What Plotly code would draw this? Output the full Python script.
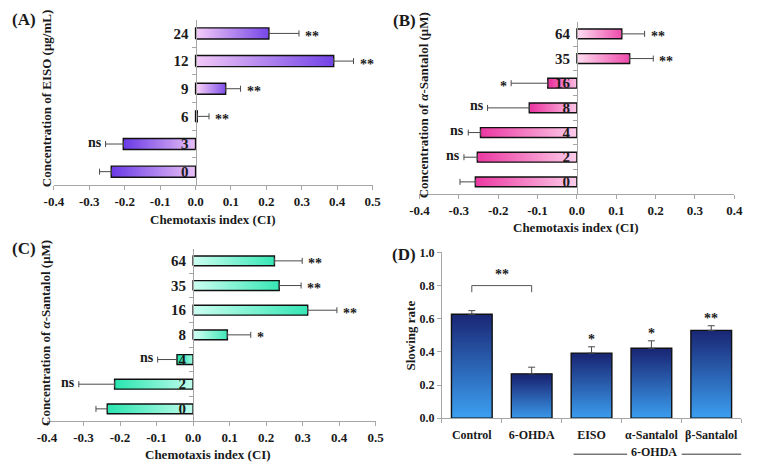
import plotly.graph_objects as go

W, H = 757, 467
FONT = "Liberation Serif"

# ---------------- data ----------------
a_labels = ["0", "3", "6", "9", "12", "24"]
a_vals = [-0.238, -0.204, 0.005, 0.085, 0.390, 0.207]
a_err = [0.033, 0.050, 0.033, 0.042, 0.056, 0.085]
a_sig = ["", "ns", "**", "**", "**", "**"]

b_labels = ["0", "2", "4", "8", "16", "35", "64"]
b_vals = [-0.258, -0.253, -0.245, -0.121, -0.074, 0.134, 0.114]
b_err = [0.039, 0.034, 0.031, 0.106, 0.093, 0.060, 0.058]
b_sig = ["", "ns", "ns", "ns", "*", "**", "**"]

c_labels = ["0", "2", "4", "8", "16", "35", "64"]
c_vals = [-0.235, -0.215, -0.044, 0.094, 0.314, 0.236, 0.223]
c_err = [0.031, 0.098, 0.053, 0.064, 0.080, 0.060, 0.076]
c_sig = ["", "ns", "ns", "*", "**", "**", "**"]

d_labels = ["Control", "6-OHDA", "EISO", "α-Santalol", "β-Santalol"]
d_vals = [0.627, 0.268, 0.393, 0.422, 0.530]
d_err = [0.022, 0.040, 0.038, 0.045, 0.028]
d_sig = ["", "", "*", "*", "**"]

x_ticks_ab = [-0.4, -0.3, -0.2, -0.1, 0.0, 0.1, 0.2, 0.3, 0.4, 0.5]
x_ticks_b = [-0.4, -0.3, -0.2, -0.1, 0.0, 0.1, 0.2, 0.3, 0.4]
d_yticks = [0.0, 0.2, 0.4, 0.6, 0.8, 1.0]


def pxx(x):
    return x / W


def pyy(y):
    return 1 - y / H


AXC = "#a6a6a6"
ERRC = "#4a4a4a"
TXT = "#1a1a1a"

fig = go.Figure()
annotations = []
shapes = []


def ptext(x, y, text, size, angle=0):
    annotations.append(dict(
        x=pxx(x), y=pyy(y), xref="paper", yref="paper", text=text,
        textangle=angle, showarrow=False, xanchor="center", yanchor="middle",
        font=dict(family=FONT, size=size, color=TXT, weight="bold")))


panels = [
    dict(key="", labels=a_labels, vals=a_vals, err=a_err, sig=a_sig,
         xr=[-0.4, 0.5], ticks=x_ticks_ab, dom_x=(45, 372), dom_y=(13, 184),
         light="#efc6f7", dark="#6c3ce6",
         ytitle="Concentration of EISO (μg/mL)", ytx=37, yty=95,
         xtx=208, xty=219, tag="(A)", tagx=14, tagy=13),
    dict(key="2", labels=b_labels, vals=b_vals, err=b_err, sig=b_sig,
         xr=[-0.4, 0.4], ticks=x_ticks_b, dom_x=(420, 743), dom_y=(15, 193),
         light="#fdd3ec", dark="#ec3aa3",
         ytitle="Concentration of <i>α</i>-Santalol (μM)", ytx=425, yty=101,
         xtx=581, xty=227, tag="(B)", tagx=405, tagy=14),
    dict(key="3", labels=c_labels, vals=c_vals, err=c_err, sig=c_sig,
         xr=[-0.4, 0.5], ticks=x_ticks_ab, dom_x=(38, 375), dom_y=(249, 427),
         light="#c6fdee", dark="#2ce5b1",
         ytitle="Concentration of <i>α</i>-Santalol (μM)", ytx=37, yty=336,
         xtx=203, xty=461, tag="(C)", tagx=14, tagy=249),
]

for p in panels:
    k = p["key"]
    xid, yid = "x" + k, "y" + k
    n = len(p["labels"])
    hh = 0.2
    for i, (v, e, s) in enumerate(zip(p["vals"], p["err"], p["sig"])):
        lo, hi = min(0, v), max(0, v)
        cs = [[0, p["light"]], [1, p["dark"]]] if v >= 0 else [[0, p["dark"]], [1, p["light"]]]
        fig.add_trace(go.Scatter(
            x=[0, v, v, 0, 0], y=[i - hh, i - hh, i + hh, i + hh, i - hh],
            mode="lines", fill="toself",
            fillgradient=dict(type="horizontal", colorscale=cs, start=lo, stop=hi),
            line=dict(color="#111111", width=1.4),
            xaxis=xid, yaxis=yid, showlegend=False, hoverinfo="skip"))
        fig.add_trace(go.Scatter(
            x=[v], y=[i], mode="markers", marker=dict(size=0.1, color="rgba(0,0,0,0)"),
            error_x=dict(type="data", symmetric=False,
                         array=[e if v >= 0 else 0], arrayminus=[0 if v >= 0 else e],
                         color=ERRC, thickness=1, width=3),
            xaxis=xid, yaxis=yid, showlegend=False, hoverinfo="skip"))
        if s:
            end = v + e if v >= 0 else v - e
            annotations.append(dict(
                x=end, y=i, xref=xid, yref=yid, text=s, showarrow=False,
                xanchor="left" if v >= 0 else "right", yanchor="middle",
                xshift=4 if v >= 0 else -2, yshift=-3 if "*" in s else 2,
                font=dict(family=FONT, size=14, color=TXT, weight="bold")))
    x0, x1 = pxx(p["dom_x"][0]), pxx(p["dom_x"][1])
    y0, y1 = pyy(p["dom_y"][1]), pyy(p["dom_y"][0])
    frac = (0 - p["xr"][0]) / (p["xr"][1] - p["xr"][0])
    fig.layout["xaxis" + k] = dict(
        domain=[x0, x1], range=p["xr"], anchor=yid, tickvals=p["ticks"],
        ticktext=["%.1f" % t for t in p["ticks"]],
        ticks="outside", ticklen=4, tickcolor=AXC, showline=True, linecolor=AXC,
        linewidth=1, showgrid=False, zeroline=False,
        tickfont=dict(family=FONT, size=13, color=TXT, weight="bold"))
    fig.layout["yaxis" + k] = dict(
        domain=[y0, y1], range=[-0.5, n - 0.5], anchor="free",
        position=x0 + frac * (x1 - x0), tickvals=list(range(n)), ticktext=p["labels"],
        ticks="", ticklabelstandoff=4, showline=True, linecolor=AXC, linewidth=1,
        showgrid=False, zeroline=False,
        minor=dict(tickvals=[j + 0.5 for j in range(n - 1)], ticks="outside",
                   ticklen=4, tickcolor=AXC),
        tickfont=dict(family=FONT, size=15, color=TXT, weight="bold"))
    ptext(p["ytx"], p["yty"], p["ytitle"], 13, angle=-90)
    ptext(p["xtx"], p["xty"], "Chemotaxis index (CI)", 13)
    ptext(p["tagx"], p["tagy"], p["tag"], 17)

# ---------------- panel D ----------------
hw = 0.34
for i, (v, e, s) in enumerate(zip(d_vals, d_err, d_sig)):
    fig.add_trace(go.Scatter(
        x=[i - hw, i + hw, i + hw, i - hw, i - hw], y=[0, 0, v, v, 0],
        mode="lines", fill="toself",
        fillgradient=dict(type="vertical", colorscale=[[0, "#3ea6f8"], [1, "#1a2977"]],
                          start=0, stop=v),
        line=dict(color="#111111", width=1.4),
        xaxis="x4", yaxis="y4", showlegend=False, hoverinfo="skip"))
    fig.add_trace(go.Scatter(
        x=[i], y=[v], mode="markers", marker=dict(size=0.1, color="rgba(0,0,0,0)"),
        error_y=dict(type="data", symmetric=False, array=[e], arrayminus=[0],
                     color=ERRC, thickness=1, width=3.5),
        xaxis="x4", yaxis="y4", showlegend=False, hoverinfo="skip"))
    if s:
        annotations.append(dict(
            x=i, y=v + e, xref="x4", yref="y4", text=s, showarrow=False,
            xanchor="center", yanchor="bottom", yshift=-2,
            font=dict(family=FONT, size=14, color=TXT, weight="bold")))

dx0, dx1 = pxx(443), pxx(750)
dy0, dy1 = pyy(424), pyy(253)
fig.layout["xaxis4"] = dict(
    domain=[dx0, dx1], range=[-0.5, len(d_labels) - 0.5], anchor="y4",
    tickvals=list(range(len(d_labels))), ticktext=d_labels, ticks="",
    ticklabelstandoff=5, showline=True, linecolor=AXC, linewidth=1,
    showgrid=False, zeroline=False,
    minor=dict(tickvals=[j + 0.5 for j in range(-1, len(d_labels))], ticks="outside",
               ticklen=4, tickcolor=AXC),
    tickfont=dict(family=FONT, size=12, color=TXT, weight="bold"))
fig.layout["yaxis4"] = dict(
    domain=[dy0, dy1], range=[0, 1.0], anchor="x4", tickvals=d_yticks,
    ticktext=["%.1f" % t for t in d_yticks], ticks="outside", ticklen=4,
    tickcolor=AXC, showline=True, linecolor=AXC, linewidth=1, showgrid=False,
    zeroline=False,
    tickfont=dict(family=FONT, size=12, color=TXT, weight="bold"))

# bracket between Control and 6-OHDA
shapes.append(dict(type="path", xref="x4", yref="y4",
                   path="M 0,0.76 L 0,0.80 L 1,0.80 L 1,0.76",
                   line=dict(color="#555555", width=1)))
annotations.append(dict(x=0.5, y=0.80, xref="x4", yref="y4", text="**",
                        showarrow=False, xanchor="center", yanchor="bottom", yshift=2,
                        font=dict(family=FONT, size=14, color=TXT, weight="bold")))
ptext(411, 339, "Slowing rate", 13, angle=-90)
ptext(404, 255, "(D)", 17)
# 6-OHDA group label under the treated groups
ptext(661, 459, "6-OHDA", 12)
shapes.append(dict(type="line", xref="paper", yref="paper", x0=pxx(578), x1=pxx(633),
                   y0=pyy(461), y1=pyy(461), line=dict(color="#333333", width=1)))
shapes.append(dict(type="line", xref="paper", yref="paper", x0=pxx(689), x1=pxx(750),
                   y0=pyy(461), y1=pyy(461), line=dict(color="#333333", width=1)))

fig.update_layout(width=W, height=H, margin=dict(l=0, r=0, t=0, b=0),
                  paper_bgcolor="white", plot_bgcolor="white",
                  annotations=annotations, shapes=shapes, showlegend=False)
fig.write_html("out.html", config={"displayModeBar": False},
               post_script="document.body.style.margin='0';"
                           "document.body.style.overflow='hidden';")
